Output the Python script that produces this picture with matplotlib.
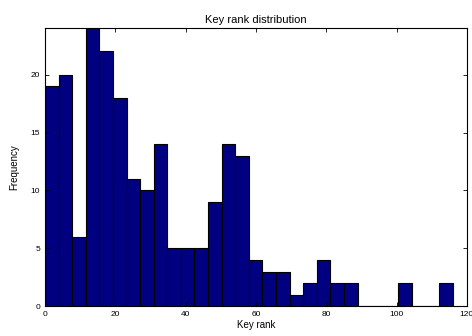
import numpy as np
import matplotlib
matplotlib.use("Agg")
import matplotlib.pyplot as plt

plt.rcParams['font.family'] = ['Liberation Sans', 'DejaVu Sans']

# histogram counts per bin (30 bins between min and max rank)
counts = [19, 20, 6, 24, 22, 18, 11, 10, 14, 5,
          5, 5, 9, 14, 13, 4, 3, 3, 1, 2,
          4, 2, 2, 0, 0, 0, 2, 0, 0, 2]
rank_min = 0
rank_max = 116

edges = np.linspace(rank_min, rank_max, len(counts) + 1)

fig = plt.figure(figsize=(4.72, 3.36), dpi=100)
ax = fig.add_axes([0.0953, 0.0884, 0.8937, 0.8274])

ax.bar(edges[:-1], counts, width=np.diff(edges), align='edge',
       color='#000080', edgecolor='black', linewidth=0.8)

ax.set_xlim(0, 120)
ax.set_ylim(0, 24)
ax.set_xticks(np.arange(0, 121, 20))
ax.set_yticks(np.arange(0, 21, 5))
ax.tick_params(direction='in', top=True, right=True, labelsize=6, length=3, width=0.6)
for s in ax.spines.values():
    s.set_linewidth(0.8)

ax.set_title('Key rank distribution', fontsize=8, pad=4)
ax.set_xlabel('Key rank', fontsize=7, labelpad=1)
ax.set_ylabel('Frequency', fontsize=7, labelpad=8)

fig.savefig('out.png', dpi=100)
